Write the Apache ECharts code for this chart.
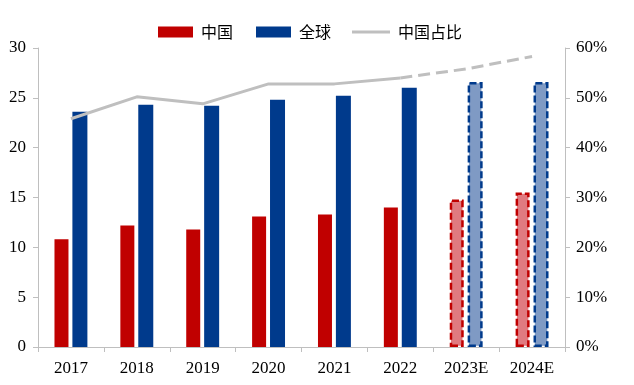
<!DOCTYPE html>
<html><head><meta charset="utf-8">
<script src="https://cdn.jsdelivr.net/npm/echarts@6/dist/echarts.min.js"></script>
<style>html,body{margin:0;padding:0;background:#fff}#c{width:634px;height:385px}</style>
</head><body><div id="c"></div>
<script>
const years = ['2017','2018','2019','2020','2021','2022','2023E','2024E'];
const china = [10.8, 12.2, 11.8, 13.1, 13.3, 14.0, 14.8, 15.5];
const globalV = [23.6, 24.3, 24.2, 24.8, 25.2, 26.0, 26.6, 26.6];
const share = [45.8, 50.2, 48.8, 52.8, 52.8, 54.0, 55.8, 58.3];
const forecastFrom = 6;

const chart = echarts.init(document.getElementById('c'), null, {renderer:'canvas'});
function barData(vals, solid, light, border) {
  return vals.map((v, i) => i < forecastFrom ? {value: v, itemStyle:{color: solid}} :
    {value: v, itemStyle:{color: light, borderColor: border, borderWidth: 2.5, borderType:[7,3]}});
}
const shareSolid = share.map((v,i)=> i <= 5 ? v : null);
const shareDash = share.map((v,i)=> i >= 5 ? v : null);
const axisColor = '#BFBFBF';
const labelFont = {fontFamily:'Liberation Serif', fontSize:17, color:'#000'};
const legendText = {fontFamily:'Noto Sans CJK SC', fontSize:16, color:'#000', padding:[0,0,0,3]};
chart.setOption({
  animation:false,
  legend:[
    {top: 19, left:153, itemWidth:35, itemHeight:11, itemGap:23, icon:'rect',
      textStyle:legendText,
      data:[{name:'中国'},{name:'全球'}]},
    {top: 19, left:347, itemWidth:38, itemHeight:3, icon:'rect',
      textStyle:legendText,
      data:[{name:'中国占比', itemStyle:{color:'#BFBFBF'}}]}
  ],
  grid:{left:38, right:69, top:48, bottom:38},
  xAxis:{type:'category', data:years,
    axisLine:{lineStyle:{color:axisColor}}, axisTick:{show:true, lineStyle:{color:axisColor}, length:5},
    axisLabel:{...labelFont, margin:13}},
  yAxis:[
    {type:'value', min:0, max:30, interval:5, splitLine:{show:false},
      axisLine:{show:true, lineStyle:{color:axisColor}}, axisTick:{show:true, lineStyle:{color:axisColor}, length:5},
      axisLabel:{...labelFont, margin:12}},
    {type:'value', min:0, max:60, interval:10, splitLine:{show:false},
      axisLine:{show:true, lineStyle:{color:axisColor}}, axisTick:{show:true, lineStyle:{color:axisColor}, length:5},
      axisLabel:{...labelFont, margin:11, formatter:'{value}%'}}
  ],
  series:[
    {name:'中国', type:'bar', barWidth:14, barGap:'28%', itemStyle:{color:'#C00000'}, data: barData(china,'#C00000','#E07A80','#C00000')},
    {name:'全球', type:'bar', barWidth:15, barGap:'28%', itemStyle:{color:'#003A8C'}, data: barData(globalV,'#003A8C','#7F9AC4','#003A8C')},
    {name:'中国占比', type:'line', yAxisIndex:1, data: shareSolid, showSymbol:false, symbol:'none',
      itemStyle:{color:'#BFBFBF'}, lineStyle:{color:'#BFBFBF', width:3}},
    {name:'中国占比', type:'line', yAxisIndex:1, data: shareDash, showSymbol:false, symbol:'none',
      itemStyle:{color:'#BFBFBF'}, lineStyle:{color:'#BFBFBF', width:3, type:[12,6]}}
  ]
});
</script></body></html>
